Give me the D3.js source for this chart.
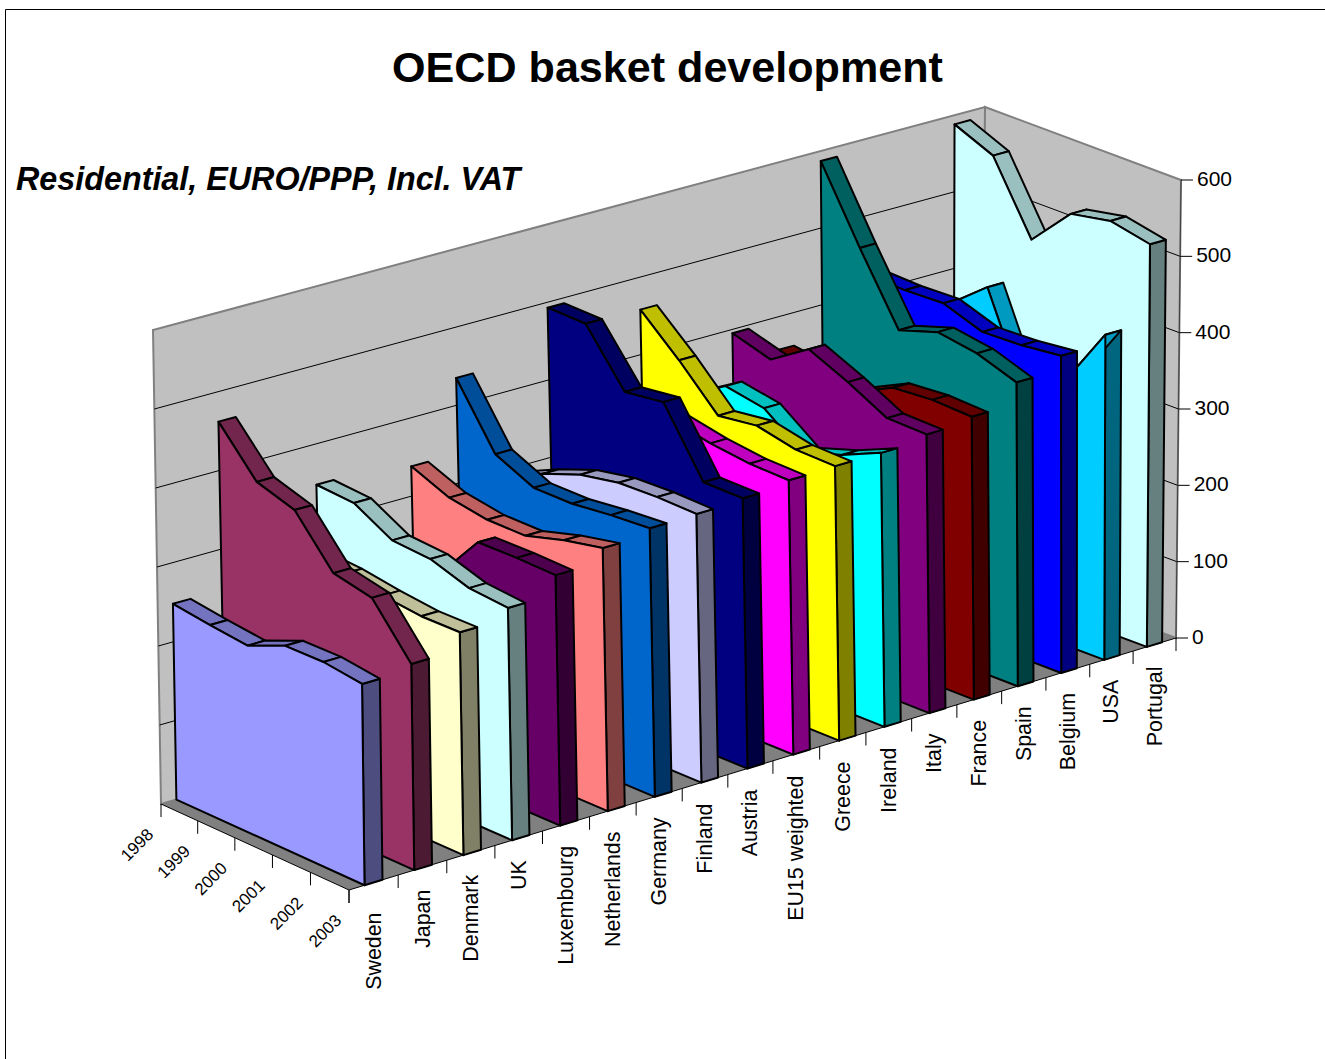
<!DOCTYPE html>
<html><head><meta charset="utf-8">
<script src="https://cdn.jsdelivr.net/npm/d3@7/dist/d3.min.js"></script>
<style>html,body{margin:0;padding:0;background:#fff}svg{display:block}text{font-family:"Liberation Sans",Arial,sans-serif;fill:#000}</style>
</head><body><div id="c"></div>
<script>
const countries=["Sweden","Japan","Denmark","UK","Luxembourg","Netherlands","Germany","Finland","Austria","EU15 weighted","Greece","Ireland","Italy","France","Spain","Belgium","USA","Portugal"];
const years=["1998","1999","2000","2001","2002","2003"];
const valueTicks=[0,100,200,300,400,500,600];
const colors=["#9999FF","#993366","#FFFFCC","#CCFFFF","#660066","#FF8080","#0066CC","#CCCCFF","#000080","#FF00FF","#FFFF00","#00FFFF","#800080","#800000","#008080","#0000FF","#00CCFF","#CCFFFF"];
const sweden=[248,242,237,258,259,253];
const japan=[462,406,391,332,322,260];
const denmark=[301,296,293,286,281,282];
const uk=[348,345,318,315,299,295];
const luxembourg=[184,217,259,319,320,319];
const netherlands=[338,318,310,310,325,336];
const germany=[435,357,334,334,340,344];
const finland=[292,315,334,344,346,345];
const austria=[493,492,424,431,348,348];
const eu15=[383,377,371,361,355,354];
const greece=[458,412,360,367,356,355];
const ireland=[331,362,353,315,332,355];
const italy=[395,380,413,390,363,362];
const france=[357,350,341,366,370,368];
const spain=[587,493,405,422,414,396];
const belgium=[424,422,424,406,408,414];
const usa=[335,388,429,301,346,425];
const portugal=[588,566,475,528,538,527];
const values=[sweden,japan,denmark,uk,luxembourg,netherlands,germany,finland,austria,eu15,greece,ireland,italy,france,spain,belgium,usa,portugal];

const W=1325,H=1059,n=countries.length;
function homography(q){const [x0,y0]=q[0],[x1,y1]=q[1],[x2,y2]=q[2],[x3,y3]=q[3];
 const dx1=x1-x2,dx2=x3-x2,sx=x0-x1+x2-x3,dy1=y1-y2,dy2=y3-y2,sy=y0-y1+y2-y3;
 const den=dx1*dy2-dx2*dy1,g=(sx*dy2-dx2*sy)/den,h=(dx1*sy-sx*dy1)/den;
 const a=x1-x0+g*x1,b=x3-x0+h*x3,d=y1-y0+g*y1,e=y3-y0+h*y3;
 return (u,v)=>{const w=g*u+h*v+1;return [(a*u+b*v+x0)/w,(d*u+e*v+y0)/w];};}
const floorH=homography([[349,890],[1176,638],[982.5,566.5],[161,804]]);
const topH=homography([[343.5,412],[1181,180],[985,107],[153,330]]);
const cScale=d3.scaleLinear().domain([0,n/2,n]).range([0,.4958,1]);
const tickScale=d3.scaleLinear().domain([0,n/2,n]).range([0,.4885,1]);
const dScale=d3.scaleLinear().domain([0,years.length-1]).range([1,0]);
const vScale=d3.scaleLinear().domain([0,600]).range([0,1]);
function Q(u,i,v){const a=floorH(u,dScale(i)),b=topH(u,dScale(i)),t=vScale(v);return [a[0]+(b[0]-a[0])*t,a[1]+(b[1]-a[1])*t];}
const P=(c,i,v)=>Q(cScale(c),i,v), T=(c,i,v)=>Q(tickScale(c),i,v);
const F0=0.31,F1=0.67;
const svg=d3.select("#c").append("svg").attr("width",W).attr("height",H);
const line=d3.line(),poly=p=>line(p)+"Z";
function shade(col,f){const c=d3.rgb(col);return d3.rgb(c.r*f,c.g*f,c.b*f).formatHex();}
svg.append("path").attr("d","M5.5,1059V9.5H1325").attr("fill","none").attr("stroke","#000");
svg.append("path").attr("d",poly([P(0,0,0),P(0,0,600),P(n,0,600),P(n,0,0)])).attr("fill","#C0C0C0").attr("stroke","#808080").attr("stroke-width",2);
svg.append("path").attr("d",poly([P(n,0,0),P(n,0,600),P(n,5,600),P(n,5,0)])).attr("fill","#C0C0C0").attr("stroke","#808080").attr("stroke-width",2);
svg.append("path").attr("d",poly([P(0,0,0),P(n,0,0),P(n,5,0),P(0,5,0)])).attr("fill","#808080");
valueTicks.slice(1,-1).forEach(v=>svg.append("path").attr("d",line([P(0,0,v),P(n,0,v),P(n,5,v)])).attr("fill","none").attr("stroke","#000").attr("stroke-width",1));
svg.append("path").attr("d",line([P(0,0,0),P(0,5,0),P(n,5,0)])).attr("fill","none").attr("stroke","#000").attr("stroke-width",1);
svg.append("path").attr("d",line([P(n,5,0),P(n,5,600)])).attr("fill","none").attr("stroke","#404040").attr("stroke-width",1);
valueTicks.forEach(v=>{const p=P(n,5,v);
 svg.append("path").attr("d",`M${p[0]},${p[1]}h12`).attr("stroke","#000");
 svg.append("text").attr("x",p[0]+16).attr("y",p[1]+6).attr("font-size",21).text(v);});
d3.range(n+1).forEach(k=>{const p=T(k,5,0);svg.append("path").attr("d",`M${p[0]},${p[1]}v13`).attr("stroke","#000");});
years.forEach((y,i)=>{const p=P(0,i,0);
 svg.append("path").attr("d",`M${p[0]},${p[1]}v13`).attr("stroke","#000");
 svg.append("text").attr("transform",`translate(${p[0]-20},${p[1]+45}) rotate(-45)`).attr("text-anchor","middle").attr("font-size",17).attr("fill","#333").text(y);});
countries.forEach((name,k)=>{const p=T(k+0.5,5,0);
 svg.append("text").attr("transform",`translate(${p[0]+7},${p[1]+(k===0?30:22)}) rotate(-90)`).attr("text-anchor","end").attr("font-size",21.4).text(name);});
d3.range(n-1,-1,-1).forEach(k=>{
 const v=values[k],col=colors[k],g=svg.append("g").attr("stroke","#000").attr("stroke-width",2).attr("stroke-linejoin","round");
 g.append("path").attr("d",poly([P(k+F0,5,0),P(k+F1,5,0),P(k+F1,5,v[5]),P(k+F0,5,v[5])])).attr("fill",shade(col,.5));
 d3.range(0,5).forEach(i=>g.append("path").attr("d",poly([P(k+F0,i,v[i]),P(k+F1,i,v[i]),P(k+F1,i+1,v[i+1]),P(k+F0,i+1,v[i+1])])).attr("fill",shade(col,.75)));
 const face=[P(k+F0,0,0)].concat(v.map((x,i)=>P(k+F0,i,x)),[P(k+F0,5,0)]);
 g.append("path").attr("d",poly(face)).attr("fill",col);
});
svg.append("text").attr("x",667.5).attr("y",82).attr("text-anchor","middle").attr("font-size",43.1).attr("font-weight","bold").text("OECD basket development");
svg.append("text").attr("x",16).attr("y",190).attr("font-size",32.3).attr("font-weight","bold").attr("font-style","italic").text("Residential, EURO/PPP, Incl. VAT");
</script></body></html>
